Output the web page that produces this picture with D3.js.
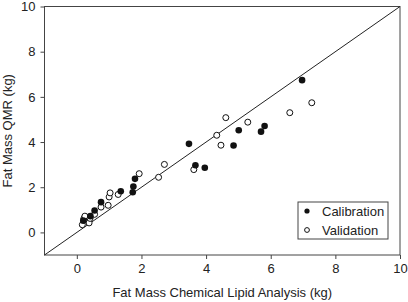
<!DOCTYPE html>
<html>
<head>
<meta charset="utf-8">
<script src="https://cdn.jsdelivr.net/npm/d3@7"></script>
<style>
  body { margin: 0; background: #fff; }
  text { font-family: "Liberation Sans", Arial, sans-serif; fill: #222; }
</style>
</head>
<body>
<svg id="chart" width="408" height="302"></svg>
<script>
// chemical lipid analysis (x) vs QMR (y), kg
var calibX = [0.20, 0.42, 0.55, 0.75, 1.36, 1.73, 1.75, 1.80, 3.47, 3.67, 3.96, 4.85, 5.01, 5.70, 5.81, 6.97];
var calibY = [0.52, 0.72, 0.97, 1.34, 1.82, 1.78, 2.03, 2.37, 3.92, 2.97, 2.86, 3.85, 4.52, 4.46, 4.71, 6.74];

var validX = [0.17, 0.22, 0.25, 0.38, 0.41, 0.55, 0.75, 0.97, 1.00, 1.03, 1.28, 1.93, 2.53, 2.71, 3.62, 4.33, 4.46, 4.61, 5.29, 6.59, 7.27];
var validY = [0.34, 0.62, 0.72, 0.42, 0.62, 0.80, 1.12, 1.20, 1.57, 1.75, 1.68, 2.60, 2.44, 3.01, 2.78, 4.30, 3.86, 5.08, 4.88, 5.30, 5.74];

var ticks = [0, 2, 4, 6, 8, 10];
var legendLabels = ["Calibration", "Validation"];

var margin = {top: 6.5, right: 8, bottom: 47, left: 44.5};
var width = 408 - margin.left - margin.right,
    height = 302 - margin.top - margin.bottom;

var svg = d3.select("#chart")
            .append("g")
            .attr("transform", "translate(" + margin.left + "," + margin.top + ")");

var x = d3.scaleLinear().domain([-1, 10]).range([0, width]);
var y = d3.scaleLinear().domain([-1, 10]).range([height, 0]);

var xAxis = svg.append("g")
    .attr("transform", "translate(0," + height + ")")
    .call(d3.axisBottom(x).tickValues(ticks).tickSize(4).tickPadding(5));

var yAxis = svg.append("g")
    .call(d3.axisLeft(y).tickValues(ticks).tickSize(4).tickPadding(5));

[xAxis, yAxis].forEach(function(a){
  a.select(".domain").remove();
  a.selectAll("line").attr("stroke", "#444");
  a.selectAll("text").style("font-size", "13px").attr("fill", "#222")
    .style("font-family", "Liberation Sans, Arial, sans-serif");
});

// frame
svg.append("rect")
   .attr("width", width).attr("height", height)
   .attr("fill", "none").attr("stroke", "#444").attr("stroke-width", 1);

// identity line
svg.append("line")
   .attr("x1", x(-1)).attr("y1", y(-1))
   .attr("x2", x(10)).attr("y2", y(10))
   .attr("stroke", "#222").attr("stroke-width", 1);

var calib = calibX.map(function(v, i){ return {x: v, y: calibY[i]}; });
var valid = validX.map(function(v, i){ return {x: v, y: validY[i]}; });

svg.selectAll("circle.valid")
   .data(valid)
   .enter().append("circle")
   .attr("class", "valid")
   .attr("cx", function(d){ return x(d.x); })
   .attr("cy", function(d){ return y(d.y); })
   .attr("r", 3)
   .attr("fill", "#fff")
   .attr("stroke", "#111")
   .attr("stroke-width", 1);

svg.selectAll("circle.calib")
   .data(calib)
   .enter().append("circle")
   .attr("class", "calib")
   .attr("cx", function(d){ return x(d.x); })
   .attr("cy", function(d){ return y(d.y); })
   .attr("r", 3.3)
   .attr("fill", "#111");

// legend
var lg = svg.append("g").attr("transform", "translate(" + (298 - margin.left) + "," + (202 - margin.top) + ")");
lg.append("rect").attr("width", 90).attr("height", 37)
  .attr("fill", "#fff").attr("stroke", "#444");
lg.append("circle").attr("cx", 9).attr("cy", 9).attr("r", 2.6).attr("fill", "#111");
lg.append("circle").attr("cx", 9).attr("cy", 28).attr("r", 2.4)
  .attr("fill", "#fff").attr("stroke", "#111");
lg.selectAll("text.lab")
  .data(legendLabels)
  .enter().append("text")
  .attr("class", "lab")
  .attr("x", 24)
  .attr("y", function(d, i){ return 9 + i * 19; })
  .attr("dy", "0.35em")
  .style("font-size", "13px")
  .text(function(d){ return d; });

// axis titles
svg.append("text")
   .attr("x", width / 2).attr("y", height + 42)
   .attr("text-anchor", "middle")
   .style("font-size", "13px")
   .text("Fat Mass Chemical Lipid Analysis (kg)");

svg.append("text")
   .attr("transform", "translate(" + (-33) + "," + (height / 2) + ") rotate(-90)")
   .attr("text-anchor", "middle")
   .style("font-size", "13px")
   .text("Fat Mass QMR (kg)");
</script>
</body>
</html>
